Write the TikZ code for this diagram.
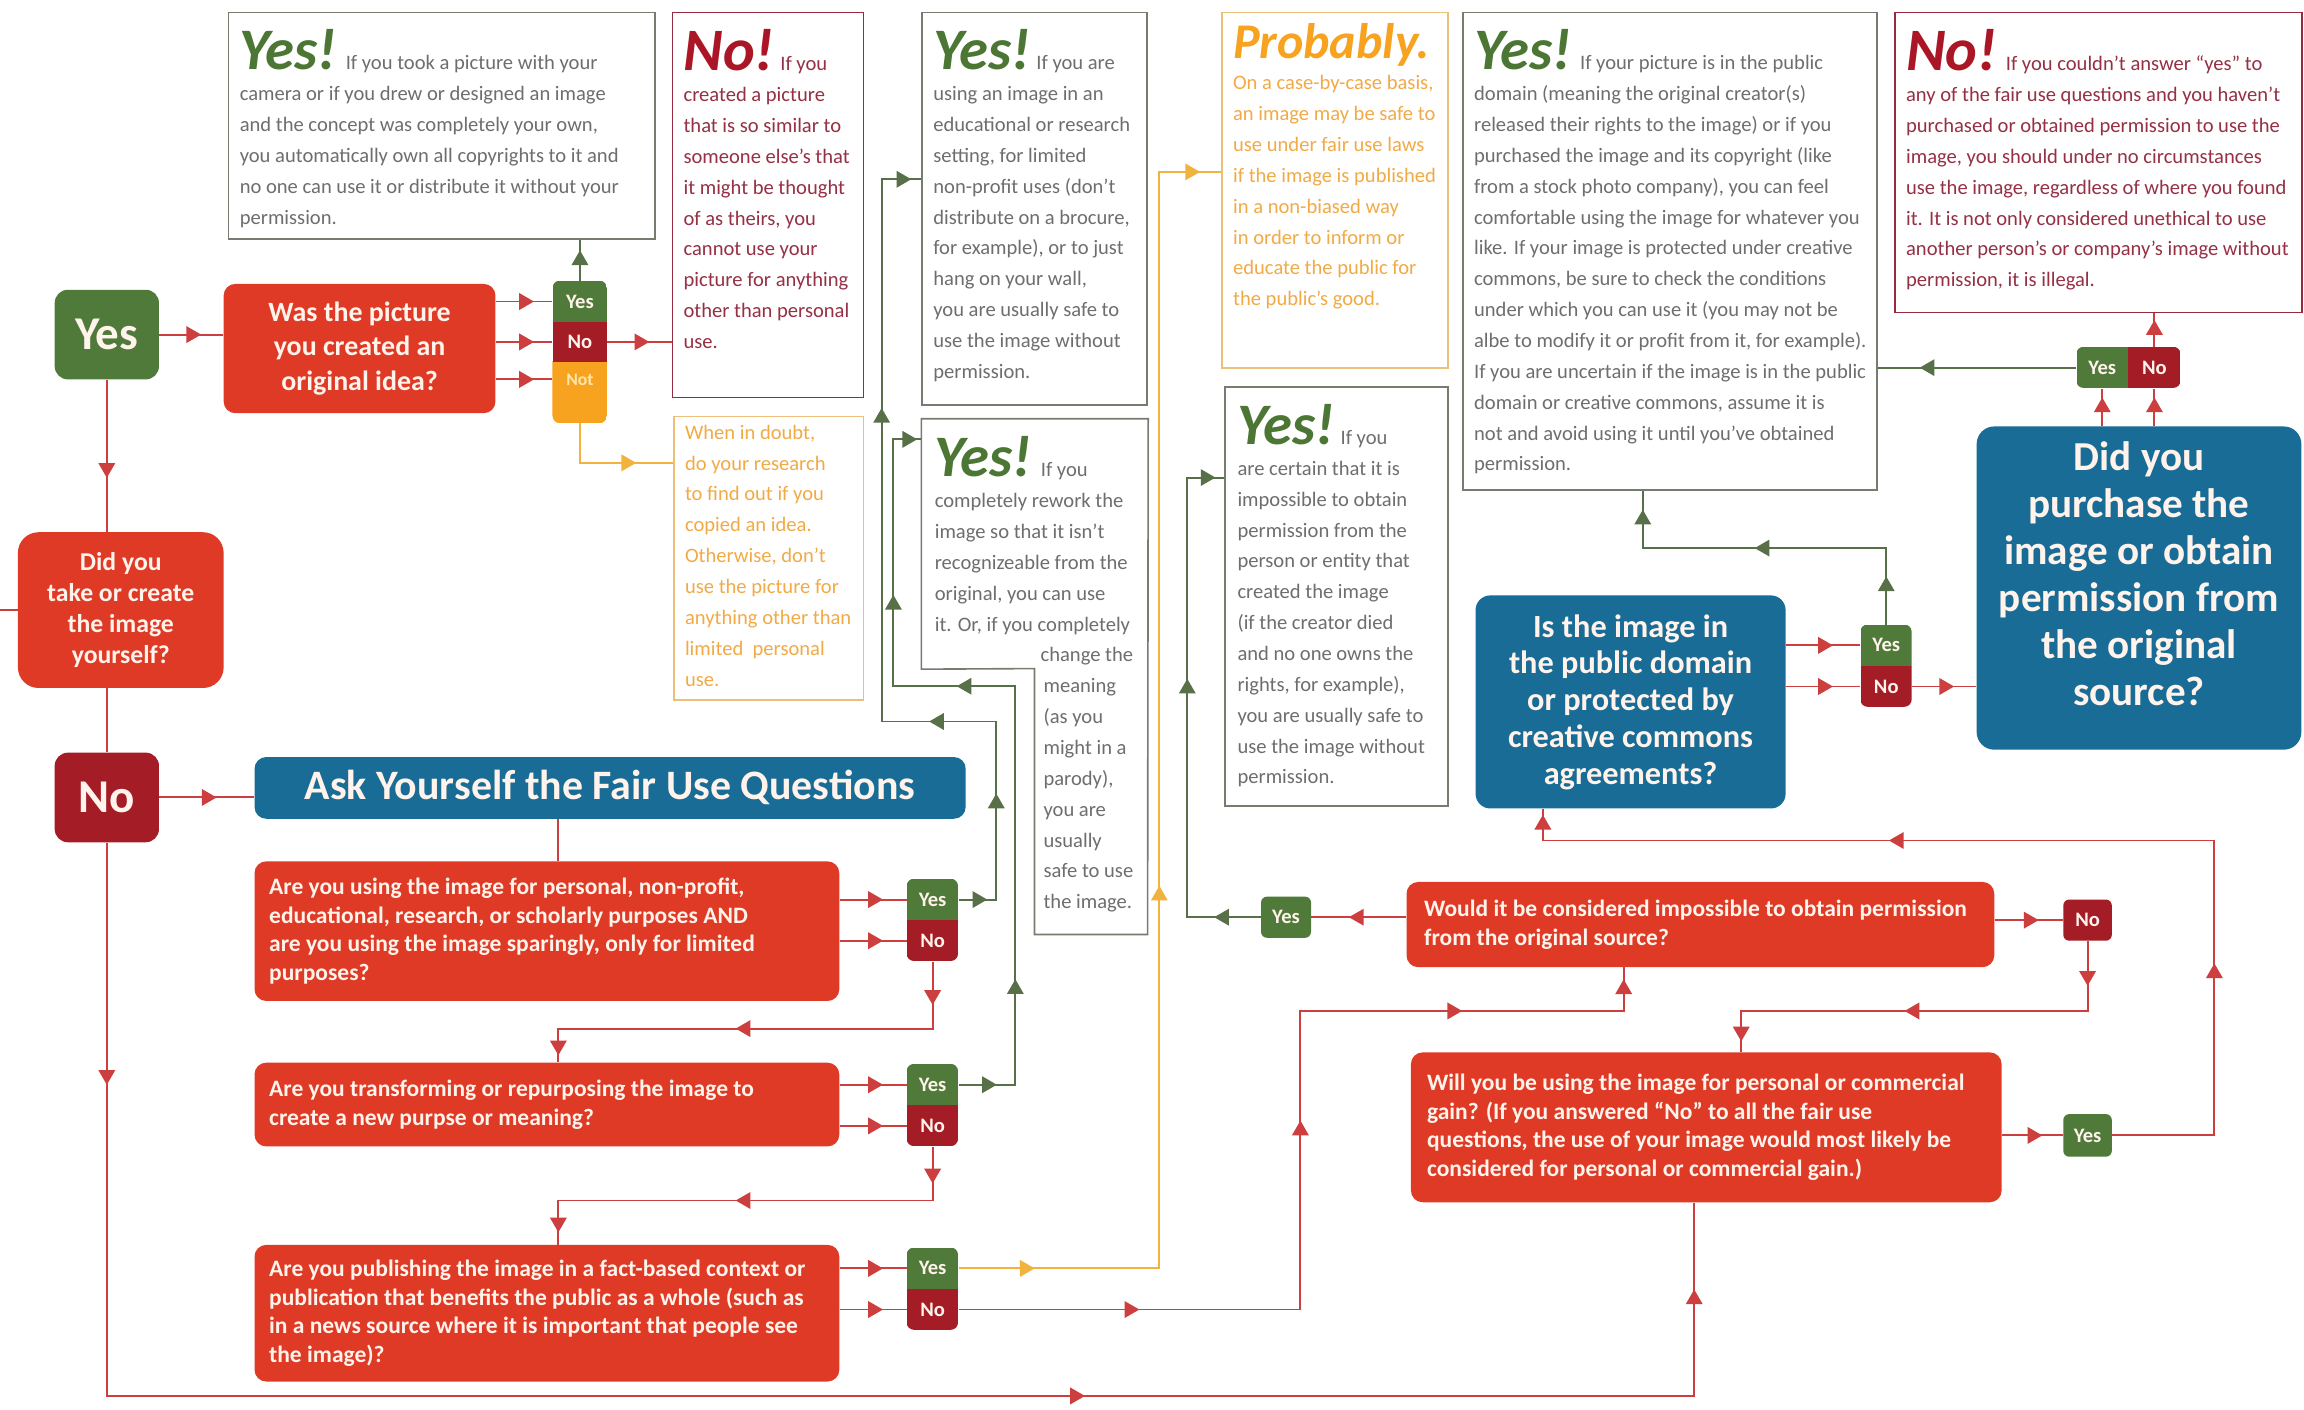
\documentclass[tikz,border=0pt]{standalone}
\usepackage{fontspec}
\setmainfont{Carlito}
\usetikzlibrary{shapes.geometric}
\definecolor{cRed}{RGB}{222,58,38}
\definecolor{cDark}{RGB}{163,28,38}
\definecolor{cGreen}{RGB}{80,122,58}
\definecolor{cOrange}{RGB}{247,163,32}
\definecolor{cBlue}{RGB}{24,108,150}
\definecolor{cLineR}{RGB}{205,62,62}
\definecolor{cLineG}{RGB}{88,112,72}
\definecolor{cLineO}{RGB}{242,178,62}
\definecolor{cGrayT}{RGB}{110,110,110}
\definecolor{cNoT}{RGB}{150,48,68}
\definecolor{cOrT}{RGB}{242,170,70}
\definecolor{cYesB}{RGB}{118,124,112}
\definecolor{cNoB}{RGB}{150,42,62}
\definecolor{cOrB}{RGB}{236,192,122}
\definecolor{cHY}{RGB}{76,118,52}
\definecolor{cHN}{RGB}{170,22,38}
\definecolor{cWT}{RGB}{255,243,235}
\newcommand{\hdY}{{\color{cHY}\fontsize{40}{40}\selectfont\bfseries\itshape Yes!}}
\newcommand{\hdN}{{\color{cHN}\fontsize{41}{41}\selectfont\bfseries\itshape No!}}
\newcommand{\hdP}{{\color{cOrange}\fontsize{34}{34}\selectfont\bfseries\itshape Probably.}}
\tikzset{
 txbox/.style={draw=#1, line width=1.1pt, fill=white, anchor=north west, inner sep=0pt, rectangle},
 txtn/.style={anchor=north west, inner sep=0pt, align=left, font=\fontsize{14}{21}\selectfont, text=#1},
 fillbox/.style={fill=#1, draw=none, rounded corners=8pt, anchor=north west, inner sep=0pt, text=cWT},
 qtxt/.style={anchor=west, inner sep=0pt, align=left, text=cWT, font=\bfseries\fontsize{16}{19.5}\selectfont},
 plab/.style={fill=#1, draw=none, anchor=north west, inner sep=0pt, minimum width=35pt, minimum height=28pt, text=cWT, font=\bfseries\fontsize{14}{14}\selectfont},
 conn/.style={line width=1.3pt, draw=#1},
 rln/.style={conn=cLineR}, gln/.style={conn=cLineG}, oln/.style={conn=cLineO},
 amk/.style={sloped, allow upside down, isosceles triangle, isosceles triangle apex angle=60, fill=#1, draw=none, inner sep=0pt, minimum size=10pt},
 amr/.style={amk=cLineR}, amg/.style={amk=cLineG}, amo/.style={amk=cLineO},
}
\newcommand{\ynpair}[3]{%
 \begin{scope}
 \clip[rounded corners=5pt] (#2,#3) rectangle ++(35,56);
 \node[plab=cGreen] (#1Yes) at (#2,#3) {Yes};
 \node[plab=cDark] (#1No) at (#2,#3+28) {No};
 \end{scope}}
\begin{document}
\begin{tikzpicture}[x=1pt,y=-1pt]
\fill[white] (0,0) rectangle (1568,959);
\useasboundingbox (0,0) rectangle (1568,959);

% ---------- text boxes ----------
\node[txbox=cYesB, minimum width=290pt, minimum height=154pt] (yes1) at (155,8) {};
\node[txtn=cGrayT] (yes1t) at ([shift={(8,12)}]yes1.north west) {\hdY\hspace{6pt}If you took a picture with your\\camera or if you drew or designed an image\\and the concept was completely your own,\\you automatically own all copyrights to it and\\no one can use it or distribute it without your\\permission.};

\node[txbox=cNoB, minimum width=130pt, minimum height=262pt] (no1) at (457,8) {};
\node[txtn=cNoT] (no1t) at ([shift={(8,12)}]no1.north west) {\hdN\hspace{4pt}If you\\created a picture\\that is so similar to\\someone else's that\\it might be thought\\of as theirs, you\\cannot use your\\picture for anything\\other than personal\\use.};

\node[txbox=cYesB, minimum width=153pt, minimum height=267pt] (yes2) at (627,8) {};
\node[txtn=cGrayT] (yes2t) at ([shift={(8,12)}]yes2.north west) {\hdY\hspace{4pt}If you are\\using an image in an\\educational or research\\setting, for limited\\non-profit uses (don't\\distribute on a brocure,\\for example), or to just\\hang on your wall,\\you are usually safe to\\use the image without\\permission.};

\node[txbox=cOrB, minimum width=154pt, minimum height=242pt] (prob) at (831,8) {};
\node[txtn=cOrT] (probt) at ([shift={(8,8)}]prob.north west) {\hdP\\On a case-by-case basis,\\an image may be safe to\\use under fair use laws\\if the image is published\\in a non-biased way\\in order to inform or\\educate the public for\\the public's good.};

\node[txbox=cYesB, minimum width=282pt, minimum height=325pt] (yes3) at (995,8) {};
\node[txtn=cGrayT] (yes3t) at ([shift={(8,12)}]yes3.north west) {\hdY\hspace{6pt}If your picture is in the public\\domain (meaning the original creator(s)\\released their rights to the image) or if you\\purchased the image and its copyright (like\\from a stock photo company), you can feel\\comfortable using the image for whatever you\\like. If your image is protected under creative\\commons, be sure to check the conditions\\under which you can use it (you may not be\\albe to modify it or profit from it, for example).\\If you are uncertain if the image is in the public\\domain or creative commons, assume it is\\not and avoid using it until you've obtained\\permission.};

\node[txbox=cNoB, minimum width=277pt, minimum height=204pt] (no2) at (1289,8) {};
\node[txtn=cNoT] (no2t) at ([shift={(8,12)}]no2.north west) {\hdN\hspace{6pt}If you couldn't answer ``yes'' to\\any of the fair use questions and you haven't\\purchased or obtained permission to use the\\image, you should under no circumstances\\use the image, regardless of where you found\\it. It is not only considered unethical to use\\another person's or company's image without\\permission, it is illegal.};

\node[txbox=cOrB, minimum width=129pt, minimum height=193pt] (doubt) at (458,283) {};
\node[txtn=cOrT] (doubtt) at ([shift={(8,6)}]doubt.north west) {When in doubt,\\do your research\\to find out if you\\copied an idea.\\Otherwise, don't\\use the picture for\\anything other than\\limited~ personal\\use.};

\node[anchor=north west, inner sep=0pt, minimum width=154pt, minimum height=170pt] (rework) at (627,285) {};
\draw[cYesB, line width=1.1pt] (rework.north west) -- (rework.north east) -- (781,636) -- (704,636) -- (704,455) -- (rework.south west) -- cycle;
\node[txtn=cGrayT] (reworkt) at ([shift={(9,12)}]rework.north west) {\hdY\hspace{6pt}If you\\completely rework the\\image so that it isn't\\recognizeable from the\\original, you can use\\it. Or, if you completely\\\hspace*{72pt}change the\\\hspace*{74pt}meaning\\\hspace*{74pt}(as you\\\hspace*{74pt}might in a\\\hspace*{74pt}parody),\\\hspace*{74pt}you are\\\hspace*{74pt}usually\\\hspace*{74pt}safe to use\\\hspace*{74pt}the image.};

\node[txbox=cYesB, minimum width=152pt, minimum height=285pt] (yes4) at (833,263) {};
\node[txtn=cGrayT] (yes4t) at ([shift={(9,12)}]yes4.north west) {\hdY\hspace{4pt}If you\\are certain that it is\\impossible to obtain\\permission from the\\person or entity that\\created the image\\(if the creator died\\and no one owns the\\rights, for example),\\you are usually safe to\\use the image without\\permission.};

% ---------- filled boxes ----------
\node[fillbox=cGreen, minimum width=71pt, minimum height=61pt, rounded corners=9pt, font=\bfseries\fontsize{32}{32}\selectfont] (yesBig) at (37,197) {Yes};
\node[fillbox=cRed, minimum width=185pt, minimum height=88pt, align=center, font=\bfseries\fontsize{19}{23.5}\selectfont] (wasQ) at (152,193) {Was the picture\\you created an\\original idea?};
\node[fillbox=cRed, minimum width=140pt, minimum height=106pt, rounded corners=14pt, align=center, font=\bfseries\fontsize{17.5}{21}\selectfont] (didTake) at (12,362) {Did you\\take or create\\the image\\yourself?};
\node[fillbox=cDark, minimum width=71pt, minimum height=61pt, rounded corners=9pt, font=\bfseries\fontsize{32}{32}\selectfont] (noBig) at (37,512) {No};
\node[fillbox=cBlue, minimum width=484pt, minimum height=42pt, font=\bfseries\fontsize{28.5}{28.5}\selectfont] (askQ) at (173,515) {Ask Yourself the Fair Use Questions};

\node[fillbox=cRed, minimum width=398pt, minimum height=95pt] (q1) at (173,586) {};
\node[qtxt] (q1t) at ([xshift=10pt]q1.west) {Are you using the image for personal, non-profit,\\educational, research, or scholarly purposes AND\\are you using the image sparingly, only for limited\\purposes?};
\node[fillbox=cRed, minimum width=398pt, minimum height=57pt] (q2) at (173,723) {};
\node[qtxt] (q2t) at ([xshift=10pt]q2.west) {Are you transforming or repurposing the image to\\create a new purpse or meaning?};
\node[fillbox=cRed, minimum width=398pt, minimum height=93pt] (q3) at (173,847) {};
\node[qtxt] (q3t) at ([xshift=10pt]q3.west) {Are you publishing the image in a fact-based context or\\publication that benefits the public as a whole (such as\\in a news source where it is important that people see\\the image)?};

\node[fillbox=cRed, minimum width=400pt, minimum height=58pt] (would) at (957,600) {};
\node[qtxt] (wouldt) at ([xshift=12pt]would.west) {Would it be considered impossible to obtain permission\\from the original source?};
\node[fillbox=cRed, minimum width=402pt, minimum height=102pt] (will) at (960,716) {};
\node[qtxt] (willt) at ([xshift=11pt]will.west) {Will you be using the image for personal or commercial\\gain? (If you answered ``No'' to all the fair use\\questions, the use of your image would most likely be\\considered for personal or commercial gain.)};

\node[fillbox=cBlue, minimum width=211pt, minimum height=145pt, rounded corners=10pt, align=center, font=\bfseries\fontsize{22}{25}\selectfont] (isQ) at (1004,405) {Is the image in\\the public domain\\or protected by\\creative commons\\agreements?};
\node[fillbox=cBlue, minimum width=221pt, minimum height=220pt, rounded corners=12pt] (purchQ) at (1345,290) {};
\node[align=center, inner sep=0pt, text=cWT, font=\bfseries\fontsize{28}{32}\selectfont] (purchT) at ([shift={(0,-10)}]purchQ.center) {Did you\\purchase the\\image or obtain\\permission from\\the original\\source?};

% ---------- answer tags ----------
\begin{scope}
\clip[rounded corners=5pt] (376,191) rectangle (413,288);
\fill[cOrange] (376,246) rectangle (413,288);
\node[plab=cGreen, minimum width=37pt, minimum height=28pt] (sYes) at (376,191) {Yes};
\node[plab=cDark, minimum width=37pt, minimum height=27pt] (sNo) at (376,219) {No};
\node[plab=cOrange, minimum width=37pt, minimum height=24pt, font=\bfseries\fontsize{12}{12}\selectfont, text={rgb,255:red,255;green,230;blue,170}] (sNot) at (376,246) {Not};
\end{scope}
\ynpair{q1}{617}{598}
\ynpair{q2}{617}{724}
\ynpair{q3}{617}{849}
\ynpair{v}{1266}{425}
\begin{scope}
\clip[rounded corners=5pt] (1413,236) rectangle (1484,264);
\node[plab=cGreen] (hYes) at (1413,236) {Yes};
\node[plab=cDark, minimum width=36pt] (hNo) at (1448,236) {No};
\end{scope}
\node[plab=cGreen, rounded corners=4pt, minimum width=34pt] (wYes) at (858,610) {Yes};
\node[plab=cDark, rounded corners=4pt, minimum width=33pt] (wNo) at (1404,612) {No};
\node[plab=cGreen, rounded corners=4pt, minimum width=33pt, minimum height=29pt] (gYes) at (1404,758) {Yes};

% ---------- coordinates ----------
\coordinate (r315) at (0,315);
\coordinate (leftEdge) at (0,415);
\coordinate (bot) at (0,950);
\coordinate (xWill) at (1153,0);
\coordinate (xQ) at (380,0);
\coordinate (xA) at (678,0); \coordinate (yA) at (0,491); \coordinate (xB) at (600,0); \coordinate (y2in) at (0,122);
\coordinate (xC) at (691,0); \coordinate (yC) at (0,467); \coordinate (xD) at (608,0); \coordinate (rwin) at (627,299);
\coordinate (yE) at (0,700); \coordinate (yF) at (0,817);
\coordinate (xG) at (789,0); \coordinate (prin) at (0,117);
\coordinate (xH) at (885,0); \coordinate (yH) at (0,688); \coordinate (xWould) at (1105,0);
\coordinate (xI) at (808,0); \coordinate (y4in) at (0,325);
\coordinate (yJ) at (0,373); \coordinate (xK) at (1118,0);
\coordinate (yL) at (0,688); \coordinate (xM) at (1185,0);
\coordinate (xN) at (1507,0); \coordinate (yN) at (0,572); \coordinate (xO) at (1050,0);
\coordinate (notBot) at (394.5,288);

% ---------- connectors ----------
\draw[rln] (yesBig.east) -- node[amr]{} (yesBig.east -| wasQ.west);
\draw[rln] (wasQ.east |- sYes) -- node[amr]{} (sYes.west);
\draw[rln] (wasQ.east |- sNo) -- node[amr]{} (sNo.west);
\draw[rln] (wasQ.east |- sNot) -- node[amr]{} (sNot.west);
\draw[gln] (sYes.north) -- node[amg]{} (sYes.north |- yes1.south);
\draw[rln] (sNo.east) -- node[amr]{} (sNo.east -| no1.west);
\draw[oln] (notBot) -- (notBot |- r315) -- node[amo]{} (r315 -| doubt.west);
\draw[rln] (yesBig.south) -- node[amr, pos=0.58]{} (yesBig.south |- didTake.north);
\draw[rln] (leftEdge) -- (leftEdge -| didTake.west);
\draw[rln] (noBig.north |- didTake.south) -- (noBig.north);
\draw[rln] (noBig.east) -- node[amr]{} (noBig.east -| askQ.west);
\draw[rln] (noBig.south) -- node[amr, pos=0.42]{} (noBig.south |- bot) -- node[amr, pos=0.61]{} (bot -| xWill) -- node[amr]{} (xWill |- will.south);

\draw[rln] (xQ |- askQ.south) -- (xQ |- q1.north);
\draw[rln] (q1.east |- q1Yes) -- node[amr]{} (q1Yes.west);
\draw[rln] (q1.east |- q1No) -- node[amr]{} (q1No.west);
\draw[rln] (q2.east |- q2Yes) -- node[amr]{} (q2Yes.west);
\draw[rln] (q2.east |- q2No) -- node[amr]{} (q2No.west);
\draw[rln] (q3.east |- q3Yes) -- node[amr]{} (q3Yes.west);
\draw[rln] (q3.east |- q3No) -- node[amr]{} (q3No.west);
\draw[gln] (q1Yes.east) -- node[amg]{} (xA |- q1Yes) -- node[amg, pos=0.54]{} (xA |- yA) -- node[amg]{} (xB |- yA) -- node[amg, pos=0.56]{} (xB |- y2in) -- node[amg]{} (y2in -| yes2.west);
\draw[gln] (q2Yes.east) -- node[amg]{} (xC |- q2Yes) -- node[amg, pos=0.24]{} (xC |- yC) -- node[amg, pos=0.4]{} (xD |- yC) -- node[amg, pos=0.33]{} (xD |- rwin) -- node[amg]{} (rwin);
\draw[rln] (q1No.south) -- node[amr]{} (q1No.south |- yE) -- node[amr]{} (xQ |- yE) -- node[amr]{} (xQ |- q2.north);
\draw[rln] (q2No.south) -- node[amr]{} (q2No.south |- yF) -- node[amr]{} (xQ |- yF) -- node[amr]{} (xQ |- q3.north);
\draw[oln] (q3Yes.east) -- node[amo, pos=0.33]{} (xG |- q3Yes) -- node[amo, pos=0.34]{} (xG |- prin) -- node[amo]{} (prin -| prob.west);
\draw[rln] (q3No.east) -- node[amr]{} (xH |- q3No) -- node[amr, pos=0.6]{} (xH |- yH) -- node[amr, pos=0.47]{} (xWould |- yH) -- node[amr]{} (xWould |- would.south);

\draw[rln] (would.west |- wYes) -- node[amr]{} (wYes.east);
\draw[gln] (wYes.west) -- node[amg]{} (xI |- wYes) -- node[amg, pos=0.52]{} (xI |- y4in) -- node[amg]{} (y4in -| yes4.west);
\draw[rln] (isQ.east |- vYes) -- node[amr]{} (vYes.west);
\draw[rln] (isQ.east |- vNo) -- node[amr]{} (vNo.west);
\draw[gln] (vYes.north) -- node[amg]{} (vYes.north |- yJ) -- node[amg]{} (xK |- yJ) -- node[amg]{} (xK |- yes3.south);
\draw[rln] (vNo.east) -- node[amr]{} (vNo.east -| purchQ.west);
\draw[rln] (hYes.south |- purchQ.north) -- node[amr]{} (hYes.south);
\draw[rln] (hNo.south |- purchQ.north) -- node[amr]{} (hNo.south);
\draw[gln] (hYes.west) -- node[amg, pos=0.74]{} (hYes.west -| yes3.east);
\draw[rln] (hNo.north) -- node[amr]{} (hNo.north |- no2.south);
\draw[rln] (would.east |- wNo) -- node[amr]{} (wNo.west);
\draw[rln] (wNo.south) -- node[amr]{} (wNo.south |- yL) -- node[amr]{} (xM |- yL) -- node[amr]{} (xM |- will.north);
\draw[rln] (will.east |- gYes) -- node[amr]{} (gYes.west);
\draw[rln] (gYes.east) -- (xN |- gYes) -- node[amr, pos=0.55]{} (xN |- yN) -- node[amr, pos=0.47]{} (xO |- yN) -- node[amr]{} (xO |- isQ.south);
\end{tikzpicture}
\end{document}
